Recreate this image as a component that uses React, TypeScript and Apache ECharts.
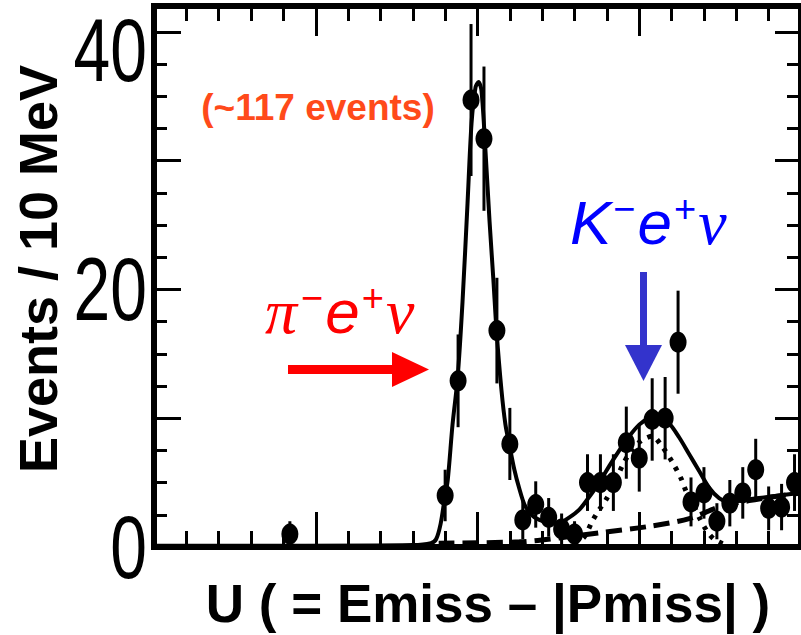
import React, { useEffect, useRef } from "react";
import * as echarts from "echarts";

// Bin centres (MeV along U) and observed counts per 10 MeV bin
const binCenters = [105, 225, 235, 245, 255, 265, 275, 285, 295, 305, 315, 325, 335, 345, 355, 365, 375, 385, 395, 405, 415, 425, 435, 445, 455, 465, 475, 485, 495];
const counts = [1, 4, 12.9, 34.7, 31.7, 16.8, 8, 2.1, 3.3, 2.3, 1.4, 1.0, 5, 5, 5, 8.1, 6.9, 9.9, 10, 15.9, 3.5, 4.2, 2, 3.4, 4.2, 6, 3, 3.1, 5];
const errors = [1, 2, 3.6, 5.9, 5.6, 4.1, 2.8, 1.5, 1.8, 1.5, 1.2, 1.0, 2.2, 2.2, 2.2, 2.8, 2.6, 3.2, 3.2, 4, 1.9, 2.0, 1.4, 1.8, 2.0, 2.4, 1.7, 1.8, 2.2];

// Total fit (solid)
const fitX = [0, 100, 200, 214, 218, 221.5, 224.5, 227, 230.7, 234.6, 238.4, 242.3, 245.4, 248.5, 250.8, 253.1, 256.2, 259.3, 262.3, 264.7, 268.5, 271.6, 274.7, 278.5, 282.4, 286.3, 291.7, 297.8, 305.6, 313.3, 321, 328.7, 336.4, 344.1, 351.9, 359.6, 367.3, 375, 382.7, 390.4, 398.1, 405.9, 413.6, 421.3, 429, 436.7, 444.4, 459.9, 475.3, 490.7, 500];
const fitY = [0.1, 0.1, 0.15, 0.3, 0.6, 1.8, 3.7, 5.2, 9.5, 13.1, 19, 26.7, 32.9, 35.7, 36.1, 35.4, 30.7, 25.3, 20.7, 16.8, 12.2, 9.5, 7.9, 6.0, 4.5, 3.3, 2.5, 2.1, 1.9, 1.9, 2.3, 2.9, 3.9, 5.0, 6.3, 7.5, 8.6, 9.5, 10.0, 10.1, 9.6, 8.5, 7.2, 5.9, 4.6, 3.8, 3.5, 3.7, 3.9, 4.1, 4.2];

// K- e+ nu signal component (dotted)
const kSigX = [324.8, 332.6, 338.7, 344.1, 349.5, 355.7, 361.9, 369.6, 377.3, 385, 392.7, 400.5, 407.4, 411.3, 415.9, 421.3, 427.5, 432.9, 440.6];
const kSigY = [0.2, 0.8, 2.0, 2.9, 3.7, 4.9, 6.3, 7.6, 8.3, 8.6, 7.8, 6.6, 5.3, 4.3, 3.5, 2.3, 1.2, 0.6, 0.2];

// Background component (dashed)
const bkgX = [220, 282.4, 313.3, 344.1, 382.7, 413.6, 436.7, 459.9, 475.3, 500];
const bkgY = [0.3, 0.4, 0.7, 1.1, 1.6, 2.2, 3.1, 3.6, 3.85, 4.2];

const yTickLabels = [0, 20, 40];

const BLACK = "#000000";

const axisCommon = { axisLabel: { show: false }, splitLine: { show: false } };

const option: any = {
  animation: false,
  backgroundColor: "#ffffff",
  grid: { left: 154, top: 6, width: 648, height: 541, containLabel: false },
  xAxis: [
    {
      type: "value", position: "bottom", min: 0, max: 500, interval: 125,
      axisLine: { show: true, onZero: false, lineStyle: { color: BLACK, width: 6, cap: "square" } },
      axisTick: { show: true, inside: true, length: 35, lineStyle: { color: BLACK, width: 3 } },
      minorTick: { show: true, splitNumber: 5, length: 16, lineStyle: { color: BLACK, width: 3 } },
      ...axisCommon,
    },
    {
      type: "value", position: "top", min: 0, max: 500, interval: 125,
      axisLine: { show: true, onZero: false, lineStyle: { color: BLACK, width: 6, cap: "square" } },
      axisTick: { show: true, inside: true, length: 30, lineStyle: { color: BLACK, width: 3 } },
      minorTick: { show: true, splitNumber: 5, length: 15, lineStyle: { color: BLACK, width: 3 } },
      ...axisCommon,
    },
  ],
  yAxis: [
    {
      type: "value", position: "left", min: 0, max: 42, interval: 10,
      axisLine: { show: true, onZero: false, lineStyle: { color: BLACK, width: 6, cap: "square" } },
      axisTick: { show: true, inside: true, length: 27, lineStyle: { color: BLACK, width: 3 } },
      ...axisCommon,
    },
    {
      type: "value", position: "left", min: 0, max: 42, interval: 2.5,
      axisLine: { show: false, onZero: false },
      axisTick: { show: true, inside: true, length: 13, lineStyle: { color: BLACK, width: 3 } },
      ...axisCommon,
    },
    {
      type: "value", position: "right", min: 0, max: 42, interval: 10,
      axisLine: { show: true, onZero: false, lineStyle: { color: BLACK, width: 6, cap: "square" } },
      axisTick: { show: true, inside: true, length: 26, lineStyle: { color: BLACK, width: 3 } },
      ...axisCommon,
    },
    {
      type: "value", position: "right", min: 0, max: 42, interval: 2.5,
      axisLine: { show: false, onZero: false },
      axisTick: { show: true, inside: true, length: 14, lineStyle: { color: BLACK, width: 3 } },
      ...axisCommon,
    },
  ],
  series: [
    {
      name: "Fit",
      type: "line",
      xAxisIndex: 0, yAxisIndex: 0,
      data: fitX.map((x, i) => [x, fitY[i]]),
      smooth: 0.3,
      showSymbol: false,
      lineStyle: { color: BLACK, width: 4 },
      z: 3,
    },
    {
      name: "K signal",
      type: "line",
      xAxisIndex: 0, yAxisIndex: 0,
      data: kSigX.map((x, i) => [x, kSigY[i]]),
      smooth: 0.3,
      showSymbol: false,
      lineStyle: { color: BLACK, width: 5, type: [4, 7] },
      z: 3,
    },
    {
      name: "Background",
      type: "line",
      xAxisIndex: 0, yAxisIndex: 0,
      data: bkgX.map((x, i) => [x, bkgY[i]]),
      smooth: 0.3,
      showSymbol: false,
      lineStyle: { color: BLACK, width: 5, type: [16, 8] },
      z: 3,
    },
    {
      name: "Errors",
      type: "custom",
      xAxisIndex: 0, yAxisIndex: 0,
      data: binCenters.map((x, i) => [x, Math.max(0, counts[i] - errors[i]), counts[i] + errors[i]]),
      encode: { x: 0, y: [1, 2] },
      renderItem: (params: any, api: any) => {
        const p1 = api.coord([api.value(0), api.value(1)]);
        const p2 = api.coord([api.value(0), api.value(2)]);
        return {
          type: "line",
          shape: { x1: p1[0], y1: p1[1], x2: p2[0], y2: p2[1] },
          style: { stroke: BLACK, lineWidth: 3 },
        };
      },
      z: 4,
    },
    {
      name: "Data",
      type: "scatter",
      xAxisIndex: 0, yAxisIndex: 0,
      data: binCenters.map((x, i) => [x, counts[i]]),
      symbol: "circle",
      symbolSize: [17, 21],
      itemStyle: { color: BLACK, opacity: 1 },
      z: 5,
    },
  ],
};

export default function App() {
  const ref = useRef<HTMLDivElement>(null);
  useEffect(() => {
    const chart = echarts.init(ref.current as HTMLDivElement, undefined, { renderer: "svg" });
    chart.setOption(option);

    const tickLabels = yTickLabels.map((v) => {
      const py = chart.convertToPixel({ yAxisIndex: 0 }, v) as number;
      return {
        type: "text",
        x: 147,
        y: Math.max(py, 50),
        scaleX: 0.75,
        style: {
          text: String(v),
          fontSize: 88,
          fontFamily: "Liberation Sans",
          fill: BLACK,
          textAlign: "right",
          textVerticalAlign: "middle",
        },
      };
    });

    const red = "#ff0000";
    const blue = "#0000ff";
    const graphics: any[] = [
      {
        type: "text", x: 38, y: 269, rotation: Math.PI / 2,
        style: { text: "Events / 10 MeV", fontSize: 54, fontWeight: "bold", fontFamily: "Liberation Sans", fill: BLACK, textAlign: "center", textVerticalAlign: "middle" },
      },
      {
        type: "text", x: 488, y: 603,
        style: { text: "U ( = Emiss – |Pmiss| )", fontSize: 53, fontWeight: "bold", fontFamily: "Liberation Sans", fill: BLACK, textAlign: "center", textVerticalAlign: "middle" },
      },
      {
        type: "text", x: 318, y: 107,
        style: { text: "(~117 events)", fontSize: 37, fontWeight: "bold", fontFamily: "Liberation Sans", fill: "#ff4a1a", textAlign: "center", textVerticalAlign: "middle" },
      },
      {
        type: "text", x: 265, y: 311,
        style: {
          text: "{g|π}{s|−}{e|e}{s|+}{g|ν}",
          textAlign: "left", textVerticalAlign: "middle",
          rich: {
            g: { fontSize: 64, fontStyle: "italic", fontFamily: "Liberation Serif", fill: red, padding: [0, 2, 0, 0] },
            e: { fontSize: 62, fontStyle: "italic", fontFamily: "Liberation Sans", fill: red },
            s: { fontSize: 38, fontFamily: "Liberation Sans", fill: red, verticalAlign: "top", padding: [0, 2, 0, 2] },
          },
        },
      },
      { type: "rect", shape: { x: 288, y: 365, width: 106, height: 9 }, style: { fill: red } },
      { type: "polygon", shape: { points: [[392, 352], [429, 369.5], [392, 387]] }, style: { fill: red } },
      {
        type: "text", x: 570, y: 222,
        style: {
          text: "{k|K}{s|−}{e|e}{s|+}{g|ν}",
          textAlign: "left", textVerticalAlign: "middle",
          rich: {
            k: { fontSize: 62, fontStyle: "italic", fontFamily: "Liberation Sans", fill: blue },
            g: { fontSize: 64, fontStyle: "italic", fontFamily: "Liberation Serif", fill: blue },
            e: { fontSize: 62, fontStyle: "italic", fontFamily: "Liberation Sans", fill: blue },
            s: { fontSize: 38, fontFamily: "Liberation Sans", fill: blue, verticalAlign: "top", padding: [0, 2, 0, 2] },
          },
        },
      },
      { type: "rect", shape: { x: 640, y: 272, width: 7, height: 75 }, style: { fill: "#3333cc" } },
      { type: "polygon", shape: { points: [[625, 345], [662, 345], [643.5, 381]] }, style: { fill: "#3333cc" } },
      ...tickLabels,
    ];
    chart.setOption({ graphic: graphics });
    return () => chart.dispose();
  }, []);
  return <div ref={ref} style={{ position: "fixed", left: 0, top: 0, width: 801, height: 635 }} />;
}
